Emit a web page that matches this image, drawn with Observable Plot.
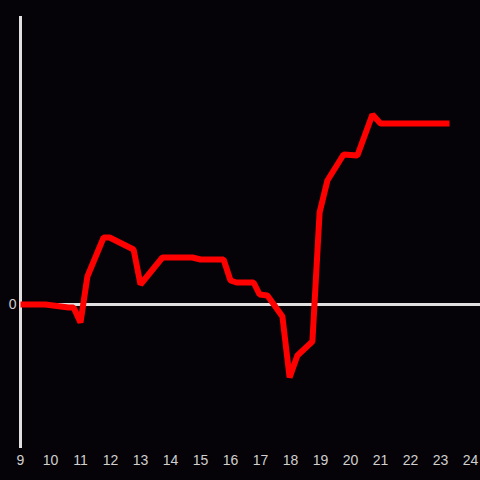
<!DOCTYPE html>
<html><head><meta charset="utf-8">
<script src="https://cdn.jsdelivr.net/npm/d3@7"></script>
<script src="https://cdn.jsdelivr.net/npm/@observablehq/plot@0.6"></script>
<style>
html,body{margin:0;padding:0;background:#050307;}
</style></head>
<body><div id="chart"></div>
<script>
const hours = [9.0, 9.83, 10.6, 10.77, 11.0, 11.23, 11.77, 11.97, 12.77, 13.0, 13.73, 14.73, 15.0, 15.77, 16.0, 16.2, 16.77, 16.97, 17.23, 17.73, 17.97, 18.23, 18.73, 18.97, 19.23, 19.77, 20.23, 20.73, 21.0, 23.3];
const values = [0, 0, -0.15, -0.15, -0.9, 1.4, 3.35, 3.35, 2.75, 1.0, 2.35, 2.35, 2.25, 2.25, 1.2, 1.1, 1.1, 0.5, 0.45, -0.6, -3.65, -2.55, -1.85, 4.6, 6.2, 7.5, 7.45, 9.5, 9.05, 9.05];
const xTicks = [9,10,11,12,13,14,15,16,17,18,19,20,21,22,23,24];
const yTicks = [0];

const data = hours.map((h, i) => ({h, v: values[i]}));
const plot = Plot.plot({
  width: 480, height: 480,
  marginLeft: 20, marginRight: 10, marginTop: 16, marginBottom: 32,
  style: {background: "#050307", color: "#d0d0d0", fontSize: "14px", fontFamily: "Liberation Sans, Arial, sans-serif"},
  x: {domain: [9, 24]},
  y: {domain: [-7.2, 14.4]},
  marks: [
    Plot.axisX({ticks: xTicks, tickSize: 0, tickPadding: 7, tickFormat: d => String(d), label: null, fill: "#d0d0d0"}),
    Plot.axisY({ticks: yTicks, tickSize: 0, tickPadding: 4, label: null, fill: "#d0d0d0"}),
    Plot.ruleY([0], {x1: 9, x2: 24.34, stroke: "#e0e0e0", strokeWidth: 3, clip: false}),
    Plot.ruleX([9], {y1: -7.2, y2: 14.4, stroke: "#e0e0e0", strokeWidth: 3}),
    Plot.line(data, {x: "h", y: "v", stroke: "#ff0000", strokeWidth: 6, strokeLinecap: "butt", strokeLinejoin: "miter"})
  ]
});
document.getElementById("chart").appendChild(plot);
</script></body></html>
